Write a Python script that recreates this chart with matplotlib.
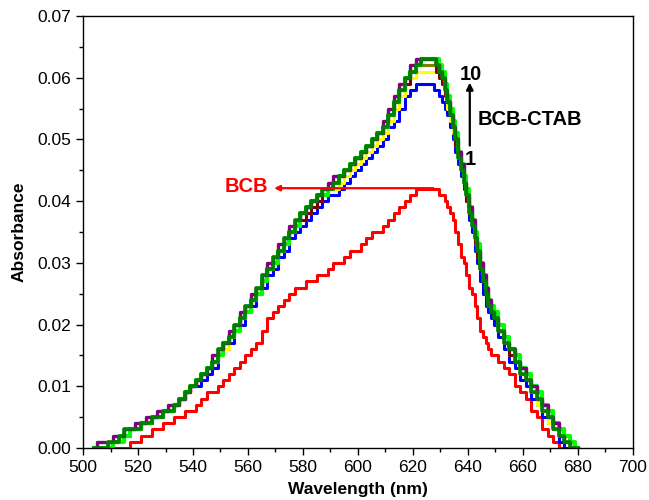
import matplotlib
matplotlib.use("Agg")
import matplotlib.pyplot as plt
from matplotlib.ticker import MultipleLocator, FormatStrFormatter

plt.rcParams["font.family"] = ["Liberation Sans", "DejaVu Sans"]

# wavelength grid (nm): 2 nm steps, 1 nm around the steep red edge
wavelength = list(range(504, 626, 2)) + list(range(626, 651)) + list(range(652, 681, 2))

# absorbance in units of 0.001
bcb = [0, 0, 0, 0, 0, 0, 0, 1, 1, 2,
       2, 3, 3, 4, 4, 5, 5, 6, 6, 7,
       8, 9, 9, 10, 11, 12, 13, 14, 15, 16,
       17, 19, 21, 22, 23, 24, 25, 26, 26, 27,
       27, 28, 28, 29, 30, 30, 31, 32, 32, 33,
       34, 35, 35, 36, 37, 38, 39, 40, 41, 42,
       42,
       42, 42, 42, 42, 41, 41, 40, 39, 38, 37, 35, 33, 31, 30, 28, 26, 25, 23, 21, 19, 18, 17, 16, 15, 15,
       14, 13, 12, 10, 9, 8, 6, 5, 3, 2, 1, 0, 0, 0, 0]

ctab_1 = [0, 0, 0, 1, 1, 2, 2, 3, 3, 4,
          4, 5, 5, 6, 6, 7, 8, 9, 10, 10,
          11, 12, 13, 15, 16, 17, 19, 20, 22, 23,
          25, 26, 28, 29, 31, 32, 34, 35, 36, 37,
          38, 39, 40, 41, 41, 42, 43, 44, 45, 46,
          47, 48, 49, 50, 52, 53, 55, 57, 58, 59,
          59,
          59, 59, 58, 58, 57, 56, 55, 54, 52, 50, 48, 46, 44, 42, 40, 37, 35, 32, 30, 27, 25, 23, 22, 21, 20,
          18, 16, 14, 13, 11, 10, 8, 7, 5, 4, 3, 1, 0, 0, 0]

ctab_yellow = [0, 0, 0, 1, 1, 2, 3, 3, 3, 4,
               4, 5, 5, 6, 6, 7, 8, 9, 10, 11,
               12, 13, 14, 15, 16, 18, 19, 21, 22, 24,
               25, 27, 29, 30, 32, 33, 35, 36, 37, 38,
               39, 40, 41, 42, 42, 43, 44, 45, 46, 47,
               48, 49, 50, 51, 53, 55, 57, 59, 60, 61,
               61,
               61, 61, 61, 61, 60, 59, 57, 55, 53, 51, 49, 47, 45, 42, 40, 38, 36, 33, 31, 29, 27, 25, 23, 22, 21,
               19, 17, 15, 14, 12, 11, 9, 7, 6, 4, 3, 2, 1, 0, 0]

ctab_maroon = [0, 0, 0, 1, 1, 2, 3, 3, 3, 4,
               4, 5, 5, 6, 6, 7, 8, 9, 10, 11,
               12, 13, 14, 16, 17, 18, 20, 21, 23, 24,
               26, 27, 29, 30, 32, 33, 35, 36, 37, 38,
               39, 40, 41, 42, 43, 44, 45, 46, 47, 48,
               49, 50, 51, 52, 54, 56, 58, 59, 61, 62,
               62,
               62, 62, 62, 61, 60, 59, 57, 56, 54, 52, 49, 47, 45, 42, 40, 38, 36, 33, 31, 29, 27, 25, 23, 22, 21,
               19, 17, 15, 14, 12, 11, 9, 8, 6, 5, 3, 2, 1, 0, 0]

ctab_olive = [0, 0, 0, 1, 1, 2, 3, 3, 3, 4,
              4, 5, 5, 6, 6, 7, 8, 9, 10, 11,
              12, 13, 14, 16, 17, 18, 20, 21, 23, 24,
              26, 28, 29, 31, 32, 34, 35, 37, 38, 39,
              40, 41, 42, 42, 43, 44, 45, 46, 47, 48,
              49, 50, 51, 52, 54, 56, 58, 60, 61, 62,
              62,
              62, 62, 62, 62, 61, 60, 58, 56, 54, 52, 50, 47, 45, 43, 41, 38, 36, 34, 32, 29, 27, 25, 23, 22, 21,
              19, 17, 16, 14, 12, 11, 9, 8, 6, 5, 3, 2, 1, 0, 0]

ctab_lime = [0, 0, 0, 0, 1, 1, 2, 3, 3, 4,
             4, 5, 5, 6, 6, 7, 8, 9, 10, 11,
             12, 13, 14, 15, 17, 18, 19, 21, 22, 24,
             25, 27, 29, 30, 32, 33, 35, 36, 38, 39,
             40, 41, 41, 42, 43, 44, 45, 46, 47, 48,
             49, 50, 51, 52, 54, 56, 58, 60, 61, 62,
             63,
             63, 63, 63, 63, 62, 61, 59, 57, 55, 53, 51, 48, 46, 44, 42, 39, 37, 35, 33, 30, 28, 26, 24, 23, 22,
             20, 18, 16, 15, 13, 12, 10, 9, 7, 6, 4, 3, 2, 1, 0]

ctab_purple = [0, 1, 1, 1, 2, 2, 3, 3, 4, 4,
               5, 5, 6, 6, 7, 7, 8, 9, 10, 11,
               12, 13, 15, 16, 17, 19, 20, 22, 23, 25,
               26, 28, 30, 31, 33, 34, 36, 37, 38, 39,
               40, 41, 42, 43, 44, 44, 45, 46, 47, 48,
               49, 50, 51, 53, 55, 57, 59, 60, 62, 63,
               63,
               63, 63, 63, 62, 61, 60, 58, 56, 54, 52, 50, 48, 46, 43, 41, 39, 37, 34, 32, 30, 28, 26, 24, 22, 21,
               19, 17, 16, 14, 13, 11, 10, 8, 7, 5, 4, 2, 1, 0, 0]

ctab_10 = [0, 0, 0, 1, 1, 2, 3, 3, 3, 4,
           4, 5, 5, 6, 6, 7, 8, 9, 10, 11,
           12, 13, 14, 16, 17, 18, 20, 21, 23, 24,
           26, 28, 29, 31, 32, 34, 35, 37, 38, 39,
           40, 41, 42, 42, 43, 44, 45, 46, 47, 48,
           49, 50, 51, 52, 54, 56, 58, 60, 61, 62,
           63,
           63, 63, 63, 62, 61, 60, 58, 56, 54, 52, 50, 47, 45, 43, 41, 38, 36, 34, 32, 29, 27, 25, 23, 22, 21,
           19, 17, 16, 14, 12, 11, 9, 8, 6, 5, 3, 2, 1, 0, 0]

series = [
    (ctab_1, "#0000ff", 2.2),
    (ctab_yellow, "#ffff00", 2.2),
    (ctab_maroon, "#800000", 2.2),
    (ctab_olive, "#808000", 2.2),
    (ctab_lime, "#00ff00", 3.0),
    (ctab_purple, "#800080", 2.4),
    (ctab_10, "#008000", 2.6),
]

fig = plt.figure(figsize=(6.49, 5.0), dpi=100)
ax = fig.add_axes([0.128, 0.104, 0.847, 0.864])

ax.plot(wavelength, [v / 1000 for v in bcb], color="#ff0000", lw=2.2,
        drawstyle="steps-mid")
for vals, col, lw in series:
    ax.plot(wavelength, [v / 1000 for v in vals], color=col, lw=lw,
            drawstyle="steps-mid")

ax.set_xlim(500, 700)
ax.set_ylim(0, 0.07)
ax.xaxis.set_major_locator(MultipleLocator(20))
ax.xaxis.set_minor_locator(MultipleLocator(10))
ax.yaxis.set_major_locator(MultipleLocator(0.01))
ax.yaxis.set_minor_locator(MultipleLocator(0.005))
ax.yaxis.set_major_formatter(FormatStrFormatter("%.2f"))
ax.tick_params(which="both", direction="out", top=False, right=False,
               width=1.0, labelsize=12.5)
ax.tick_params(which="major", length=5)
ax.tick_params(which="minor", length=3)
for sp in ax.spines.values():
    sp.set_linewidth(1.0)

ax.set_xlabel("Wavelength (nm)", fontsize=12.5, fontweight="bold", labelpad=5)
ax.set_ylabel("Absorbance", fontsize=12.5, fontweight="bold", labelpad=8)

# BCB-CTAB annotation
ax.annotate("", xy=(640.7, 0.0592), xytext=(640.7, 0.0490),
            arrowprops=dict(arrowstyle="-|>", color="black", lw=1.6,
                            mutation_scale=10, shrinkA=0, shrinkB=0))
ax.text(641.2, 0.0606, "10", fontsize=14.5, fontweight="bold", ha="center", va="center")
ax.text(641.0, 0.0467, "1", fontsize=14.5, fontweight="bold", ha="center", va="center")
ax.text(643.5, 0.0532, "BCB-CTAB", fontsize=14.5, fontweight="bold", ha="left", va="center")

# BCB annotation
ax.annotate("", xy=(568.5, 0.0421), xytext=(628.5, 0.0421),
            arrowprops=dict(arrowstyle="-|>", color="#ff0000", lw=1.6,
                            mutation_scale=8))
ax.text(567.5, 0.0423, "BCB", fontsize=14.5, fontweight="bold", color="#ff0000",
        ha="right", va="center")

fig.savefig("out.png", dpi=100)
